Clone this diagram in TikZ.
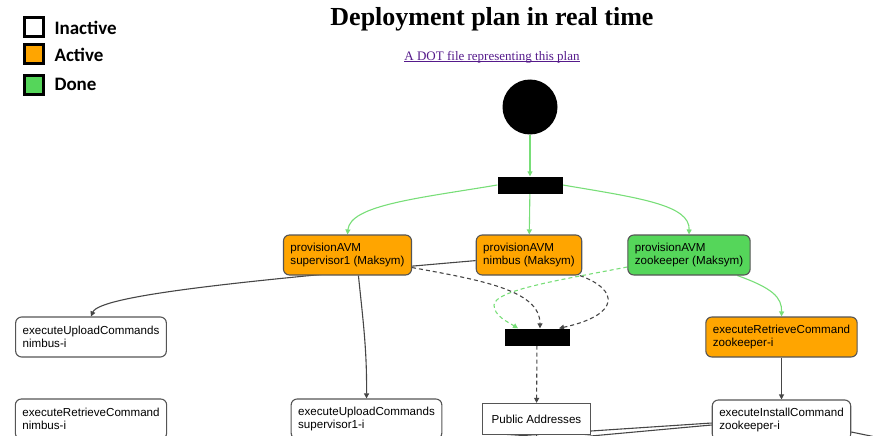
\documentclass[tikz,border=0pt]{standalone}
\usepackage{fontspec}
\setmainfont{Liberation Sans}
\newfontfamily\titlefont{Liberation Serif}
\newfontfamily\legendfont{Carlito}
\usetikzlibrary{arrows.meta,backgrounds}

\definecolor{activeorange}{RGB}{255,165,0}
\definecolor{donegreen}{RGB}{85,214,90}
\definecolor{doneedge}{RGB}{120,222,120}
\definecolor{taskborder}{RGB}{85,85,85}
\definecolor{edgegray}{RGB}{70,70,70}
\definecolor{linkcol}{RGB}{85,26,139}

\begin{document}
\begin{tikzpicture}[x=1pt,y=-1pt,>={Triangle[length=5pt,width=5pt]},
    task/.style={draw=taskborder,line width=1.1pt,rounded corners=6pt,align=left,
        inner xsep=7pt,minimum height=40pt,font=\fontsize{11.6}{13}\selectfont},
    inactive/.style={task,fill=white},
    active/.style={task,fill=activeorange},
    done/.style={task,fill=donegreen},
    bar/.style={fill=black,minimum width=65pt,minimum height=17pt,inner sep=0pt},
    legbox/.style={draw=black,line width=3pt,minimum size=19pt,inner sep=0pt},
    leglabel/.style={anchor=west,font=\legendfont\bfseries\fontsize{19}{22}\selectfont},
    flow/.style={->,draw=edgegray,line width=1.1pt},
    doneflow/.style={->,draw=doneedge,line width=1.1pt},
    wait/.style={flow,dash pattern=on 4pt off 3pt},
    donewait/.style={doneflow,dash pattern=on 4pt off 3pt}]
    \useasboundingbox (0,0) rectangle (873,436);
    \clip (0,0) rectangle (873,436);

    % legend
    \node[legbox,fill=white] (legIn) at (33.5,27) {};
    \node[legbox,fill=activeorange] (legAc) at (33.5,54) {};
    \node[legbox,fill=donegreen] (legDo) at (33.5,85) {};
    \node[leglabel] (legInText) at (51,28) {Inactive};
    \node[leglabel] (legAcText) at (51,55) {Active};
    \node[leglabel] (legDoText) at (51,84) {Done};

    \node[font=\titlefont\bfseries\fontsize{26}{30}\selectfont] (title) at (492,19) {Deployment plan in real time};
    \node[font=\titlefont\fontsize{13}{15}\selectfont,text=linkcol,inner xsep=0pt] (dotlink) at (492,57) {A DOT file representing this plan};
    \draw[linkcol,line width=0.6pt] ([yshift=-1.5pt]dotlink.base west) -- ([yshift=-1.5pt]dotlink.base east);

    % plan
    \node[circle,fill=black,minimum size=55pt,inner sep=0pt] (start) at (530,107) {};
    \node[bar] (fork) at (530,185) {};
    \node[active] (provS) at (347.5,255) {provisionAVM\\supervisor1 (Maksym)};
    \node[active] (provN) at (529,255) {provisionAVM\\nimbus (Maksym)};
    \node[done] (provZ) at (689,255) {provisionAVM\\zookeeper (Maksym)};
    \node[bar] (join) at (537,337) {};
    \node[inactive] (upN) at (91,337) {executeUploadCommands\\nimbus-i};
    \node[inactive] (retN) at (91,419) {executeRetrieveCommand\\nimbus-i};
    \node[inactive] (upS) at (366.5,419) {executeUploadCommands\\supervisor1-i};
    \node[draw=taskborder,line width=1.1pt,fill=white,inner xsep=9pt,minimum height=31pt,font=\fontsize{11.6}{13}\selectfont] (pubAddr) at (536.5,419) {Public Addresses};
    \node[active] (retZ) at (781.5,337) {executeRetrieveCommand\\zookeeper-i};
    \node[inactive] (instZ) at (781.5,420) {executeInstallCommand\\zookeeper-i};

    \coordinate (off1) at (440,441);
    \coordinate (off2) at (470,447);
    \coordinate (off3) at (900,442);
    \coordinate (off4) at (537,450);

    \begin{scope}[on background layer]
        \path[doneflow] (start) -- (fork);
        \path[doneflow] (fork.west) .. controls (420,198) and (350,205) .. (provS.north);
        \path[doneflow] (fork) -- (provN);
        \path[doneflow] (fork.east) .. controls (640,198) and (690,205) .. (provZ.north);
        \path[doneflow] (provZ.-23) .. controls (772,288) and (782,297) .. (retZ.north);
        \path[flow] (provN.186) .. controls (250,280) and (100,295) .. (upN.north);
        \path[flow] (provS.-62) .. controls (363,320) and (367,350) .. (upS.north);
        \path[flow] (retZ) -- (instZ);
        \path[wait] (provS.-11) .. controls (480,280) and (540,290) .. ([xshift=3pt]join.north);
        \path[wait] (provN.-22) .. controls (620,290) and (620,315) .. ([xshift=22pt]join.north);
        \path[donewait] (provZ.191) .. controls (560,280) and (495,290) .. (494,305)
            .. controls (494,316) and (508,322) .. ([xshift=-19pt]join.north);
        \path[wait] (join) -- (pubAddr);
        \draw[edgegray,line width=1.1pt] ([yshift=-3pt]instZ.west) -- (off1);
        \draw[edgegray,line width=1.1pt] ([yshift=-5pt]instZ.west) -- (off2);
        \draw[edgegray,line width=1.1pt] ([yshift=-12pt]instZ.east) -- (off3);
        \draw[edgegray,line width=1.1pt] (pubAddr.south) -- (off4);
    \end{scope}
\end{tikzpicture}
\end{document}
